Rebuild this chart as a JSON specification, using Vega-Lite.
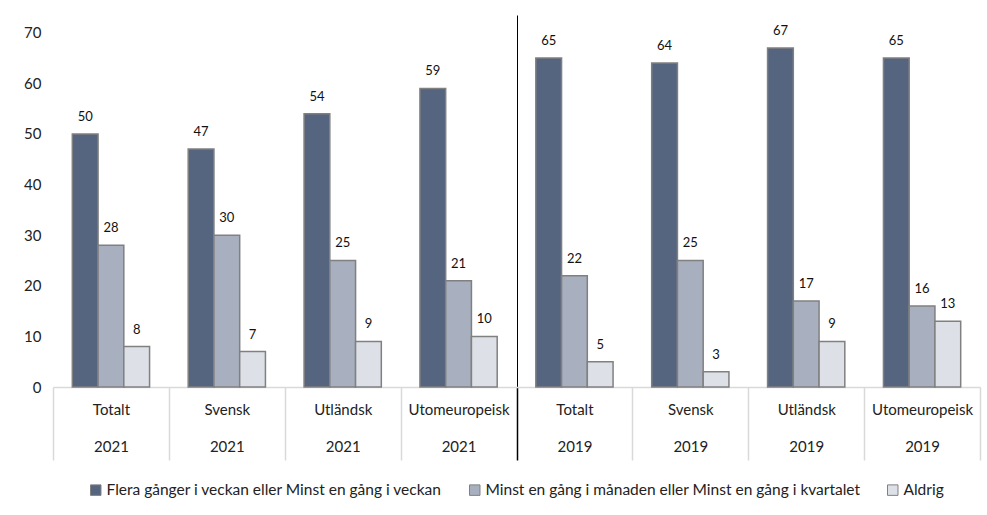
{
  "$schema": "https://vega.github.io/schema/vega-lite/v6.json",
  "autosize": "none",
  "width": 927,
  "height": 372,
  "padding": {"left": 53, "top": 15, "right": 7, "bottom": 128},
  "background": "white",
  "config": {
    "view": {"stroke": null},
    "font": "Lato",
    "text": {"font": "Lato"}
  },
  "data": {
    "values": [
      {"g": "Totalt|2021", "serie": "Flera gånger i veckan eller Minst en gång i veckan", "v": 50},
      {"g": "Totalt|2021", "serie": "Minst en gång i månaden eller Minst en gång i kvartalet", "v": 28},
      {"g": "Totalt|2021", "serie": "Aldrig", "v": 8},
      {"g": "Svensk|2021", "serie": "Flera gånger i veckan eller Minst en gång i veckan", "v": 47},
      {"g": "Svensk|2021", "serie": "Minst en gång i månaden eller Minst en gång i kvartalet", "v": 30},
      {"g": "Svensk|2021", "serie": "Aldrig", "v": 7},
      {"g": "Utländsk|2021", "serie": "Flera gånger i veckan eller Minst en gång i veckan", "v": 54},
      {"g": "Utländsk|2021", "serie": "Minst en gång i månaden eller Minst en gång i kvartalet", "v": 25},
      {"g": "Utländsk|2021", "serie": "Aldrig", "v": 9},
      {"g": "Utomeuropeisk|2021", "serie": "Flera gånger i veckan eller Minst en gång i veckan", "v": 59},
      {"g": "Utomeuropeisk|2021", "serie": "Minst en gång i månaden eller Minst en gång i kvartalet", "v": 21},
      {"g": "Utomeuropeisk|2021", "serie": "Aldrig", "v": 10},
      {"g": "Totalt|2019", "serie": "Flera gånger i veckan eller Minst en gång i veckan", "v": 65},
      {"g": "Totalt|2019", "serie": "Minst en gång i månaden eller Minst en gång i kvartalet", "v": 22},
      {"g": "Totalt|2019", "serie": "Aldrig", "v": 5},
      {"g": "Svensk|2019", "serie": "Flera gånger i veckan eller Minst en gång i veckan", "v": 64},
      {"g": "Svensk|2019", "serie": "Minst en gång i månaden eller Minst en gång i kvartalet", "v": 25},
      {"g": "Svensk|2019", "serie": "Aldrig", "v": 3},
      {"g": "Utländsk|2019", "serie": "Flera gånger i veckan eller Minst en gång i veckan", "v": 67},
      {"g": "Utländsk|2019", "serie": "Minst en gång i månaden eller Minst en gång i kvartalet", "v": 17},
      {"g": "Utländsk|2019", "serie": "Aldrig", "v": 9},
      {"g": "Utomeuropeisk|2019", "serie": "Flera gånger i veckan eller Minst en gång i veckan", "v": 65},
      {"g": "Utomeuropeisk|2019", "serie": "Minst en gång i månaden eller Minst en gång i kvartalet", "v": 16},
      {"g": "Utomeuropeisk|2019", "serie": "Aldrig", "v": 13}
    ]
  },
  "encoding": {
    "x": {
      "field": "g",
      "type": "nominal",
      "sort": null,
      "scale": {"paddingInner": 0, "paddingOuter": 0},
      "axis": {
        "title": null,
        "labelExpr": "split(datum.label, '|')",
        "labelAngle": 0,
        "labelFont": "Lato",
        "labelFontSize": 15,
        "labelColor": "#222222",
        "labelLineHeight": 37,
        "labelPadding": -58,
        "labelBaseline": "top",
        "tickBand": "extent",
        "tickSize": 73,
        "tickWidth": 1.5,
        "tickColor": {"condition": {"test": "datum.value === 'Utomeuropeisk|2021'", "value": "#000000"}, "value": "#d9d9d9"},
        "grid": true,
        "gridWidth": 1,
        "gridColor": {"condition": {"test": "datum.value === 'Utomeuropeisk|2021'", "value": "#000000"}, "value": "rgba(0,0,0,0)"},
        "domainColor": "#d9d9d9",
        "domainWidth": 1.5
      }
    },
    "xOffset": {
      "field": "serie",
      "type": "nominal",
      "sort": null,
      "scale": {"paddingInner": 0, "paddingOuter": 0.75}
    },
    "y": {
      "field": "v",
      "type": "quantitative",
      "scale": {"domain": [0, 73.5], "nice": false},
      "axis": {
        "title": null,
        "values": [0, 10, 20, 30, 40, 50, 60, 70],
        "grid": false,
        "domain": false,
        "ticks": false,
        "labelFont": "Lato",
        "labelFontSize": 15,
        "labelColor": "#222222",
        "labelPadding": 12
      }
    }
  },
  "layer": [
    {
      "mark": {"type": "bar", "stroke": "#808080", "strokeWidth": 1.5},
      "encoding": {
        "color": {
          "field": "serie",
          "type": "nominal",
          "sort": null,
          "scale": {
            "domain": [
              "Flera gånger i veckan eller Minst en gång i veckan",
              "Minst en gång i månaden eller Minst en gång i kvartalet",
              "Aldrig"
            ],
            "range": ["#55647f", "#a8b0bf", "#dde0e7"]
          },
          "legend": {
            "title": null,
            "orient": "none",
            "direction": "horizontal",
            "legendX": 35,
            "legendY": 467,
            "symbolType": "square",
            "symbolSize": 110,
            "symbolStrokeColor": "#808080",
            "symbolStrokeWidth": 1,
            "labelFont": "Lato",
            "labelFontSize": 15.5,
            "labelColor": "#222222",
            "labelOffset": 3,
            "labelLimit": 0,
            "columnPadding": 24
          }
        }
      }
    },
    {
      "mark": {"type": "text", "baseline": "bottom", "dy": -10, "fontSize": 13, "font": "Lato", "color": "#111111"},
      "encoding": {
        "text": {"field": "v", "type": "quantitative"}
      }
    }
  ]
}
